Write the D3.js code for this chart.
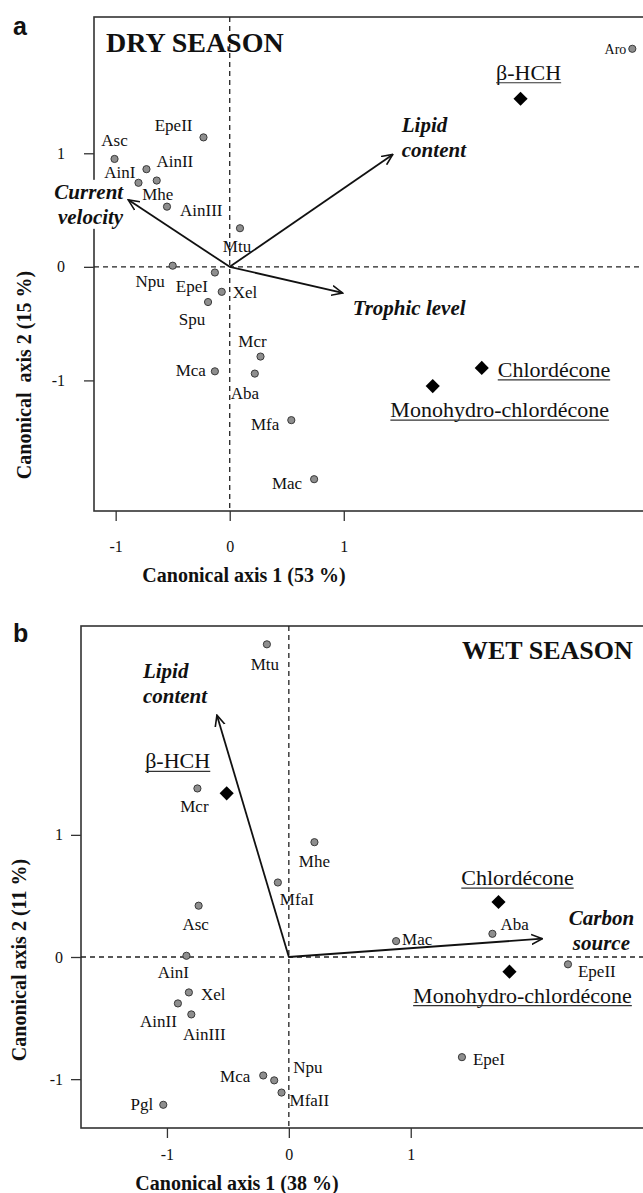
<!DOCTYPE html>
<html>
<head>
<meta charset="utf-8">
<script src="https://cdn.jsdelivr.net/npm/d3@7"></script>
<style>
  body { margin: 0; background: #fff; }
  svg text { font-family: "Liberation Serif", "Times New Roman", serif; fill: #111; }
  svg text.letter { font-family: "Liberation Sans", Arial, sans-serif; }
</style>
</head>
<body>
<div id="chart"></div>
<script>
// --- data (canonical scores) ---

// panel a : dry season
const drySpecies = ["Aro", "EpeII", "Asc", "AinII", "AinI", "Mhe", "AinIII", "Mtu", "Npu", "EpeI", "Xel", "Spu", "Mcr", "Aba", "Mca", "Mfa", "Mac"];
const dryX = [3.53, -0.23, -1.01, -0.73, -0.80, -0.64, -0.55, 0.09, -0.50, -0.13, -0.07, -0.19, 0.27, 0.22, -0.13, 0.54, 0.74];
const dryY = [1.92, 1.14, 0.95, 0.86, 0.74, 0.76, 0.53, 0.34, 0.01, -0.05, -0.22, -0.31, -0.79, -0.94, -0.92, -1.35, -1.87];

const dryChem = ["β-HCH", "Chlordécone", "Monohydro-chlordécone"];
const dryChemX = [2.55, 2.21, 1.78];
const dryChemY = [1.48, -0.89, -1.05];

const dryVars = [["Current", "velocity"], ["Lipid", "content"], ["Trophic level"]];
const dryVarX = [-0.89, 1.43, 0.99];
const dryVarY = [0.59, 0.99, -0.23];

// panel b : wet season
const wetSpecies = ["Mtu", "Mcr", "Mhe", "MfaI", "Asc", "AinI", "Xel", "AinII", "AinIII", "Mca", "Npu", "MfaII", "Pgl", "Mac", "Aba", "EpeII", "EpeI"];
const wetX = [-0.18, -0.75, 0.21, -0.09, -0.74, -0.84, -0.82, -0.91, -0.80, -0.21, -0.12, -0.06, -1.03, 0.88, 1.67, 2.29, 1.42];
const wetY = [2.56, 1.38, 0.94, 0.61, 0.42, 0.01, -0.29, -0.38, -0.47, -0.97, -1.01, -1.11, -1.21, 0.13, 0.19, -0.06, -0.82];

const wetChem = ["β-HCH", "Chlordécone", "Monohydro-chlordécone"];
const wetChemX = [-0.51, 1.72, 1.81];
const wetChemY = [1.34, 0.45, -0.12];

const wetVars = [["Lipid", "content"], ["Carbon", "source"]];
const wetVarX = [-0.59, 2.08];
const wetVarY = [1.98, 0.15];

const tickValues = [-1, 0, 1];

// label placement (anchor, dx, dy in px from the mark)
const dryPlace = {
  Aro: ["end", -6, 5], EpeII: ["end", -11, -6], Asc: ["middle", 0, -13], AinII: ["start", 10, -2],
  AinI: ["end", -3, -5], Mhe: ["middle", 1, 19], AinIII: ["start", 13, 9], Mtu: ["middle", -3, 24],
  Npu: ["end", -8, 21], EpeI: ["end", -7, 19], Xel: ["start", 11, 6], Spu: ["middle", -16, 23],
  Mcr: ["middle", -8, -10], Aba: ["middle", -10, 25], Mca: ["end", -9, 5], Mfa: ["end", -12, 10],
  Mac: ["end", -12, 10]
};
const dryChemPlace = [["middle", 8, -19], ["start", 16, 9], ["middle", 67, 31]];
const dryVarPlace = [["end", -5, -1], ["start", 9, -22], ["start", 10, 22]];

const wetPlace = {
  Mtu: ["middle", -2, 26], Mcr: ["middle", -3, 24], Mhe: ["middle", 0, 25], MfaI: ["start", 2, 23],
  Asc: ["middle", -3, 24], AinI: ["middle", -13, 22], Xel: ["start", 12, 8], AinII: ["end", -1, 24],
  AinIII: ["middle", 13, 26], Mca: ["end", -13, 7], Npu: ["start", 19, -7], MfaII: ["start", 8, 13],
  Pgl: ["end", -10, 5], Mac: ["start", 6, 4], Aba: ["start", 8, -4], EpeII: ["start", 10, 13],
  EpeI: ["start", 11, 8]
};
const wetChemPlace = [["middle", -49, -25], ["middle", 19, -17], ["middle", 13, 31]];
const wetVarPlace = [["start", -74, -37], ["middle", 59, -14]];

const width = 643, height = 1193;

const svg = d3.select("#chart").append("svg")
  .attr("width", width)
  .attr("height", height);

svg.append("defs").append("marker")
  .attr("id", "arrow")
  .attr("viewBox", "0 0 12 12")
  .attr("refX", 11).attr("refY", 6)
  .attr("markerWidth", 12).attr("markerHeight", 12)
  .attr("markerUnits", "userSpaceOnUse")
  .attr("orient", "auto")
  .append("path")
  .attr("d", "M0,1 L11,6 L0,11")
  .attr("fill", "none")
  .attr("stroke", "#111")
  .attr("stroke-width", 1.6);

function drawPanel(p) {
  const g = svg.append("g");
  const x = d3.scaleLinear().domain(p.xDomain).range([p.left, p.right]);
  const y = d3.scaleLinear().domain(p.yDomain).range([p.bottom, p.top]);

  // frame
  g.append("rect")
    .attr("x", p.left).attr("y", p.top)
    .attr("width", p.right - p.left).attr("height", p.bottom - p.top)
    .attr("fill", "none").attr("stroke", "#333").attr("stroke-width", 1.6);

  // zero lines
  g.append("line")
    .attr("x1", p.left).attr("x2", p.right)
    .attr("y1", y(0)).attr("y2", y(0))
    .attr("stroke", "#222").attr("stroke-width", 1.3).attr("stroke-dasharray", "5,4");
  g.append("line")
    .attr("x1", x(0)).attr("x2", x(0))
    .attr("y1", p.top).attr("y2", p.bottom)
    .attr("stroke", "#222").attr("stroke-width", 1.3).attr("stroke-dasharray", "5,4");

  // axes
  const ax = g.append("g")
    .attr("transform", `translate(0,${p.bottom})`)
    .call(d3.axisBottom(x).tickValues(tickValues).tickSize(10).tickPadding(p.xPad).tickFormat(d3.format("d")));
  const ay = g.append("g")
    .attr("transform", `translate(${p.left},0)`)
    .call(d3.axisLeft(y).tickValues(tickValues).tickSize(10).tickPadding(p.yPad).tickFormat(d3.format("d")));
  [ax, ay].forEach(a => {
    a.select(".domain").remove();
    a.selectAll("line").attr("stroke", "#333").attr("stroke-width", 1.3);
    a.selectAll("text")
      .attr("font-size", 16)
      .attr("fill", "#111")
      .text(d => d < 0 ? "-" + Math.abs(d) : d);
  });

  // axis titles
  g.append("text")
    .attr("x", p.xTitle[0]).attr("y", p.xTitle[1])
    .attr("text-anchor", "middle")
    .attr("font-size", 20).attr("font-weight", "bold")
    .text(p.xLabel);
  g.append("text")
    .attr("transform", `translate(${p.yTitle[0]},${p.yTitle[1]}) rotate(-90)`)
    .attr("text-anchor", "middle")
    .attr("font-size", 20).attr("font-weight", "bold")
    .style("white-space", "pre")
    .text(p.yLabel);

  // season title + panel letter
  g.append("text")
    .attr("x", p.seasonPos[0]).attr("y", p.seasonPos[1])
    .attr("font-size", p.seasonSize).attr("font-weight", "bold")
    .text(p.season);
  g.append("text")
    .attr("class", "letter")
    .attr("x", p.letterPos[0]).attr("y", p.letterPos[1])
    .attr("font-size", 25).attr("font-weight", "bold")
    .text(p.letter);

  // environmental arrows
  const origin = [x(0), y(0)];
  p.vars.forEach((lines, i) => {
    const tx = x(p.varX[i]), ty = y(p.varY[i]);
    g.append("line")
      .attr("x1", origin[0]).attr("y1", origin[1])
      .attr("x2", tx).attr("y2", ty)
      .attr("stroke", "#111").attr("stroke-width", 1.8)
      .attr("marker-end", "url(#arrow)");
  });
  p.vars.forEach((lines, i) => {
    const tx = x(p.varX[i]), ty = y(p.varY[i]);
    const [anchor, dx, dy] = p.varPlace[i];
    const t = g.append("text")
      .attr("text-anchor", anchor)
      .attr("font-size", 21).attr("font-weight", "bold").attr("font-style", "italic");
    lines.forEach((s, k) => {
      t.append("tspan").attr("x", tx + dx).attr("y", ty + dy + k * 25).text(s);
    });
    const bb = t.node().getBBox();
    g.insert("rect", () => t.node())
      .attr("x", bb.x - 1).attr("y", bb.y).attr("width", bb.width + 2).attr("height", bb.height)
      .attr("fill", "#fff");
  });

  // species points
  p.species.forEach((name, i) => {
    const cx = x(p.sx[i]), cy = y(p.sy[i]);
    g.append("circle")
      .attr("cx", cx).attr("cy", cy).attr("r", 3.6)
      .attr("fill", "#8e8e8e").attr("stroke", "#3a3a3a").attr("stroke-width", 1);
    const [anchor, dx, dy] = p.place[name];
    g.append("text")
      .attr("x", cx + dx).attr("y", cy + dy)
      .attr("text-anchor", anchor)
      .attr("font-size", name === "Aro" ? 14 : 17)
      .text(name);
  });

  // contaminants
  p.chem.forEach((name, i) => {
    const cx = x(p.cx[i]), cy = y(p.cy[i]);
    g.append("path")
      .attr("d", d3.symbol(d3.symbolSquare, 100)())
      .attr("transform", `translate(${cx},${cy}) rotate(45)`)
      .attr("fill", "#000");
    const [anchor, dx, dy] = p.chemPlace[i];
    const t = g.append("text")
      .attr("x", cx + dx).attr("y", cy + dy)
      .attr("text-anchor", anchor)
      .attr("font-size", 22)
      .text(name);
    const bb = t.node().getBBox();
    g.append("line")
      .attr("x1", bb.x).attr("x2", bb.x + bb.width)
      .attr("y1", cy + dy + 3).attr("y2", cy + dy + 3)
      .attr("stroke", "#333").attr("stroke-width", 1.2);
  });
}

drawPanel({
  letter: "a", letterPos: [13, 35],
  season: "DRY SEASON", seasonPos: [106, 52], seasonSize: 28,
  left: 94, right: 646, top: 17, bottom: 511,
  xDomain: [-1.19, 3.65], yDomain: [-2.15, 2.20],
  xPad: 20, yPad: 19,
  xLabel: "Canonical axis 1 (53 %)", xTitle: [244, 582],
  yLabel: "Canonical  axis 2 (15 %)", yTitle: [31, 375],
  species: drySpecies, sx: dryX, sy: dryY, place: dryPlace,
  chem: dryChem, cx: dryChemX, cy: dryChemY, chemPlace: dryChemPlace,
  vars: dryVars, varX: dryVarX, varY: dryVarY, varPlace: dryVarPlace
});

drawPanel({
  letter: "b", letterPos: [13, 642],
  season: "WET SEASON", seasonPos: [462, 659], seasonSize: 26,
  left: 81, right: 646, top: 626, bottom: 1128,
  xDomain: [-1.705, 2.93], yDomain: [-1.40, 2.71],
  xPad: 11, yPad: 8,
  xLabel: "Canonical axis 1 (38 %)", xTitle: [237, 1190],
  yLabel: "Canonical axis 2 (11 %)", yTitle: [26, 960],
  species: wetSpecies, sx: wetX, sy: wetY, place: wetPlace,
  chem: wetChem, cx: wetChemX, cy: wetChemY, chemPlace: wetChemPlace,
  vars: wetVars, varX: wetVarX, varY: wetVarY, varPlace: wetVarPlace
});
</script>
</body>
</html>
